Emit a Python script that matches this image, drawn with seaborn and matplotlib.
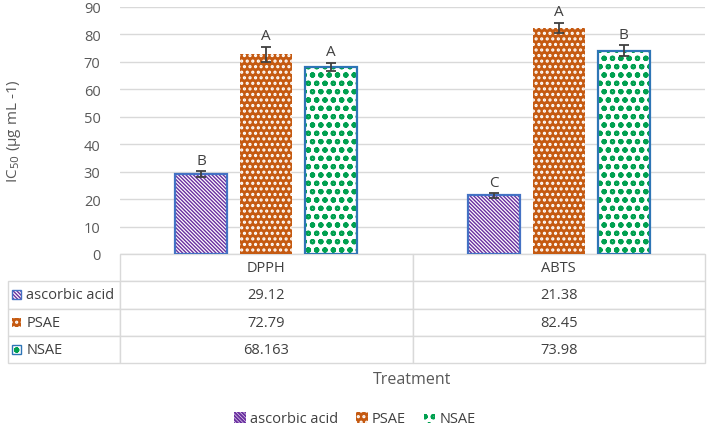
import pandas as pd
import matplotlib
matplotlib.use('Agg')
import matplotlib.pyplot as plt
import matplotlib.patches as mpatches
import seaborn as sns

# data
assays = ['DPPH', 'ABTS']
treatments = ['ascorbic acid', 'PSAE', 'NSAE']
ascorbic_vals = [29.12, 21.38]
psae_vals = [72.79, 82.45]
nsae_vals = [68.163, 73.98]
ascorbic_err = [1.0, 0.8]
psae_err = [2.8, 1.8]
nsae_err = [1.5, 2.0]
ascorbic_letters = ['B', 'C']
psae_letters = ['A', 'A']
nsae_letters = ['A', 'B']

vals = [ascorbic_vals, psae_vals, nsae_vals]
errs = [ascorbic_err, psae_err, nsae_err]
letters = [ascorbic_letters, psae_letters, nsae_letters]

bs = chr(92)
styles = {
    'ascorbic acid': dict(face='white', hcol='#6A2FA0', hatch=bs * 9, hlw=1.0, outline='#4472C4'),
    'PSAE': dict(face='#C55A11', hcol='white', hatch='...', hlw=1.5, outline=None),
    'NSAE': dict(face='white', hcol='#00A050', hatch='oo', hlw=1.5, outline='#2E75B6'),
}

rows = []
for t, v in zip(treatments, vals):
    for a, x in zip(assays, v):
        rows.append({'assay': a, 'treatment': t, 'ic50': x})
df = pd.DataFrame(rows)

sns.set_theme(style='white')
plt.rcParams['font.family'] = ['Open Sans', 'DejaVu Sans']
plt.rcParams['hatch.linewidth'] = 1.5
txt = '#404040'


def style_patch(p, s):
    p.set_facecolor(s['face'])
    p.set_edgecolor(s['hcol'])
    p.set_hatch(s['hatch'])
    p.set_linewidth(0)
    if hasattr(p, 'set_hatch_linewidth'):
        p.set_hatch_linewidth(s['hlw'])


fig = plt.figure(figsize=(7.09, 4.35), dpi=100)
ax = fig.add_axes([120/709, 1-255/435, 585/709, 247/435])

sns.barplot(data=df, x='assay', y='ic50', hue='treatment', hue_order=treatments,
            order=assays, width=0.666, gap=0.2, errorbar=None, legend=False, ax=ax,
            palette=['white'] * 3)

for cont, t, v, e, l in zip(ax.containers, treatments, vals, errs, letters):
    s = styles[t]
    xs = []
    for bar in cont:
        style_patch(bar, s)
        if s['outline']:
            ax.add_patch(mpatches.Rectangle(bar.get_xy(), bar.get_width(), bar.get_height(),
                                            fill=False, edgecolor=s['outline'], lw=1.6, zorder=3))
        xs.append(bar.get_x() + bar.get_width() / 2)
    ax.errorbar(xs, v, yerr=e, fmt='none', ecolor='#404040', capsize=3.5, elinewidth=1.3,
                capthick=1.3, zorder=4)
    for x, y, err, lab in zip(xs, v, e, l):
        ax.text(x, y + err + 4, lab, ha='center', va='center', fontsize=11, color=txt)

ax.set_ylim(0, 90)
ax.set_yticks(range(0, 91, 10))
ax.yaxis.grid(True, color='#D9D9D9', lw=1)
ax.set_axisbelow(True)
for sp in ax.spines.values():
    sp.set_visible(False)
ax.set_xticks([])
ax.set_xlabel('')
ax.tick_params(axis='y', length=0, pad=14, labelsize=10.5, labelcolor='#595959')
ax.set_ylabel('IC$_{50}$ (µg mL -1)', fontsize=11, color='#595959')
ax.yaxis.set_label_coords(-0.166, 0.5)

# data table under the plot
cell_text = [[t] + [str(x) for x in v] for t, v in zip(treatments, vals)]
tb_x0 = (8 - 120) / 585
tb_w = (705 - 8) / 585
tb_h = 109 / 247
tbl = ax.table(cellText=cell_text, colLabels=[''] + assays, cellLoc='center',
               colWidths=[112, 292.5, 292.5], bbox=[tb_x0, -tb_h, tb_w, tb_h])
tbl.auto_set_font_size(False)
tbl.set_fontsize(10.5)
for (r, c), cell in tbl.get_celld().items():
    cell.set_edgecolor('#D9D9D9')
    cell.set_linewidth(1)
    cell.get_text().set_color(txt)
    if r == 0 and c == 0:
        cell.visible_edges = ''
    if c == 0 and r > 0:
        cell._loc = 'left'
        cell.get_text().set_ha('left')
        cell.PAD = 0.165

row_h = tb_h / 4
for i, t in enumerate(treatments):
    s = styles[t]
    yc = -(i + 1.5) * row_h
    key = mpatches.Rectangle(((12 - 120) / 585, yc - 0.018), 9 / 585, 0.036,
                             transform=ax.transAxes, clip_on=False)
    style_patch(key, s)
    ax.add_patch(key)
    if s['outline']:
        ax.add_patch(mpatches.Rectangle(((12 - 120) / 585, yc - 0.018), 9 / 585, 0.036,
                                        transform=ax.transAxes, clip_on=False, fill=False,
                                        edgecolor=s['outline'], lw=1))
ax.set_xlim(-0.5, 1.5)

fig.text(412/709, 1-380/435, 'Treatment', ha='center', va='center', fontsize=11.5, color='#595959')

handles = []
for t in treatments:
    h = mpatches.Patch()
    style_patch(h, styles[t])
    handles.append(h)
fig.legend(handles, treatments, loc='center', bbox_to_anchor=(355/709, 1-420/435), ncol=3,
           frameon=False, fontsize=10.5, handlelength=0.8, handleheight=0.8,
           handletextpad=0.3, columnspacing=1.2, labelcolor=txt)

fig.savefig('out.png', dpi=100)
